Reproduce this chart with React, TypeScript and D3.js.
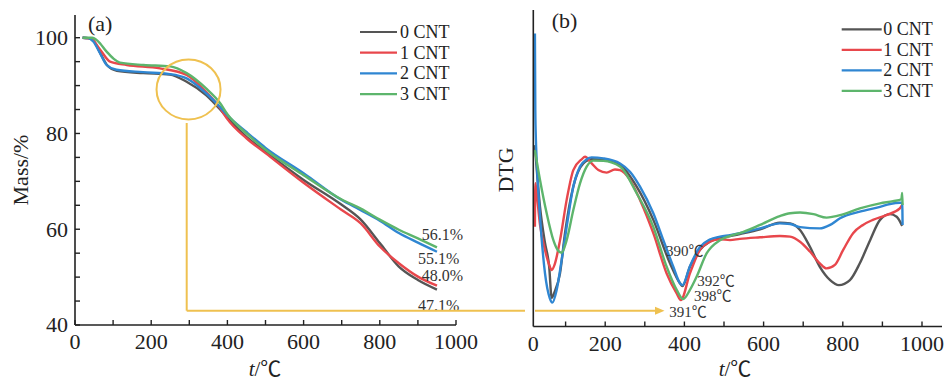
import React from "react";
import * as d3 from "d3";

// ---------- data ----------
const seriesNames = ["0 CNT", "1 CNT", "2 CNT", "3 CNT"];
const seriesColors = ["#555555", "#E8474C", "#2F86D2", "#5DB56C"];

// TG curves: [temperature °C, mass %]
const tg0: [number, number][] = [[20,100],[35,99.9],[50,99.2],[68,96.5],[85,94.2],[110,93.1],[179,92.6],[249,92.3],[293,90.8],[344,88],[381,85],[400,83.3],[450,79.3],[500,76.2],[600,70.3],[700,65.1],[750,62],[800,57.1],[850,52.2],[900,49.4],[950,47.4]];
const tg1: [number, number][] = [[20,100],[42,99.8],[66,97.5],[92,95],[136,94.3],[223,93.6],[293,92.2],[344,88.7],[381,85.3],[400,83],[450,79],[500,75.9],[600,69.7],[700,64],[750,61.2],[800,56.4],[850,52.9],[900,50.1],[950,48.2]];
const tg2: [number, number][] = [[20,100],[35,99.9],[48,99.2],[66,96.7],[83,94.3],[109,93.3],[179,92.8],[249,92.4],[293,91.5],[344,88.4],[381,85.5],[400,83.8],[450,80.3],[500,77],[600,71.7],[700,66.1],[750,64],[800,61.8],[850,59.2],[900,57.2],[950,55.3]];
const tg3: [number, number][] = [[20,100],[45,100],[60,99.3],[83,97.1],[100,95.7],[118,94.8],[180,94.3],[250,94],[293,92.6],[344,89.4],[381,86.3],[400,84],[450,80],[500,76.6],[600,71.3],[700,66.2],[750,64.3],[800,62],[850,59.9],[900,58.1],[950,56.2]];

// DTG curves: [temperature °C, DTG (a.u.)]
const dtg0: [number, number][] = [[22.5,57.4],[35.4,37.9],[48,26.5],[58.6,19],[64.8,9.2],[72,11],[85.8,16.9],[98.5,29.6],[119.5,44.3],[144.8,51.6],[165.8,52.9],[195.3,52.7],[237.4,51.1],[279.5,44.3],[321.5,33.8],[363.6,20.1],[388.9,13.8],[395,12.9],[414,19],[439,24.3],[464,26.9],[490,28],[540,29.3],[591,30.8],[641,32.9],[667,32.7],[692,30.6],[717,25.3],[742,19],[768,14.8],[790,13.2],[818,14.8],[843,20.1],[869,27.4],[894,33.8],[919,35.6],[936,34.8],[950,31.9]];
const dtg1: [number, number][] = [[22.5,31.6],[23.5,45.4],[26,43.2],[35.4,32.2],[48,24.3],[58.6,19.6],[64.8,18],[72,19.6],[86,27.4],[102.7,40.1],[119.5,49.5],[140.6,52.9],[149,53.7],[165.8,51.6],[182.7,49.5],[203.7,48.7],[224.7,49.7],[237.4,49.5],[262.6,46.4],[287.9,40.1],[321.5,29.6],[355.2,16.9],[380.5,10.6],[391,8.5],[414,16.9],[439,24.3],[464,26.9],[490,27.7],[515,27.4],[540,27.8],[591,28.3],[641,28.7],[667,28.5],[692,26.9],[717,23.8],[742,20.1],[759,18.5],[780,19.6],[801,24.3],[826,29.6],[851,32.2],[876,33.8],[910,35.3],[944,37.4],[950,38.5]];
const dtg2: [number, number][] = [[22.5,92.6],[23.5,68.5],[25,59],[26.9,52.7],[35.4,34.8],[48,16.9],[60,9.1],[66.5,7.7],[77.4,11.7],[90,21.1],[102.7,31.6],[119.5,44.3],[136.4,50.6],[153.2,52.9],[165.8,53.5],[195.3,53.2],[237.4,51.6],[262.6,49],[287.9,44.3],[321.5,35.9],[346.8,27.4],[372,19],[388.9,13.8],[395,13.2],[414,19.2],[439,25.2],[464,27.6],[490,28.5],[515,29],[540,29.6],[591,31.1],[641,32.7],[667,32.5],[692,31.5],[742,31.1],[768,32.2],[793,34.3],[843,36.4],[894,37.9],[919,38.8],[944,39.2],[950,39.2],[951,32.2]];
const dtg3: [number, number][] = [[22.5,55.8],[35.4,46.4],[52.2,35.9],[69.1,27.4],[80,24.3],[90,23.4],[102.7,27.4],[119.5,36.9],[136.4,45.3],[153.2,50.6],[170,52.5],[195.3,52.4],[237.4,50.6],[279.5,42.2],[321.5,31.6],[355.2,19],[380.5,11.7],[397,8.8],[414,11.7],[431,15.9],[456,23.2],[490,27.4],[515,28.7],[540,29.6],[591,32.2],[641,35],[667,35.9],[692,36.1],[726,35.6],[759,34.5],[776,34.8],[793,35.3],[843,37.4],[894,39],[927,39.7],[948,40.3],[950,42.3],[951,38.5]];

const tgSeries = [tg0, tg1, tg2, tg3];
const dtgSeries = [dtg0, dtg1, dtg2, dtg3];

const xTicks = d3.range(0, 1001, 100);
const xTickLabels = [0, 200, 400, 600, 800, 1000];
const yTicksTG = d3.range(40, 101, 5);
const yTickLabelsTG = [40, 60, 80, 100];

const residueLabels = ["56.1%", "55.1%", "48.0%", "47.1%"];
const peakLabels = ["390℃", "392℃", "398℃", "391℃"];

// ---------- layout ----------
const W = 949;
const H = 382;
const SERIF = "'Liberation Serif', 'Times New Roman', serif";
const SERIF_C = "'Liberation Serif', 'Noto Sans CJK SC', serif";
const AXIS = "#222";
const YELLOW = "#EFC150";

const xL = d3.scaleLinear().domain([0, 1000]).range([75, 456]);
const yL = d3.scaleLinear().domain([40, 100]).range([325, 37.7]);
const xR = d3.scaleLinear().domain([0, 1000]).range([526, 922]);
const yR = d3.scaleLinear().domain([0, 100]).range([327, 10]);

const lineL = d3.line<[number, number]>().x(d => xL(d[0])).y(d => yL(d[1])).curve(d3.curveMonotoneX);
const lineR = d3.line<[number, number]>().x(d => xR(d[0])).y(d => yR(d[1])).curve(d3.curveMonotoneX);

export default function App() {
  const axisYL = xL(0);
  const baseL = yL(40);
  const axisYR = 533.3;
  const baseR = 326.5;

  return (
    <svg width={W} height={H} viewBox={`0 0 ${W} ${H}`} style={{ display: "block", position: "absolute", left: 0, top: 0, background: "#fff" }}>
      <rect x={0} y={0} width={W} height={H} fill="#fff" />

      {/* ---------- Panel (a) ---------- */}
      <g>
        {tgSeries.map((s, i) => (
          <path key={i} d={lineL(s) || ""} fill="none" stroke={seriesColors[i]} strokeWidth={2.4} strokeLinejoin="round" />
        ))}
        <line x1={axisYL} x2={axisYL} y1={15} y2={baseL} stroke={AXIS} strokeWidth={1.6} />
        <line x1={axisYL} x2={xL(1000)} y1={baseL} y2={baseL} stroke={AXIS} strokeWidth={1.6} />
        {xTicks.map(t => (
          <line key={t} x1={xL(t)} x2={xL(t)} y1={baseL} y2={baseL - 5} stroke={AXIS} strokeWidth={1.4} />
        ))}
        {yTicksTG.map(t => (
          <line key={t} x1={axisYL} x2={axisYL + 5} y1={yL(t)} y2={yL(t)} stroke={AXIS} strokeWidth={1.4} />
        ))}
        {xTickLabels.map(t => (
          <text key={t} x={xL(t)} y={349} textAnchor="middle" fontFamily={SERIF} fontSize={22} fill={AXIS}>{t}</text>
        ))}
        {yTickLabelsTG.map(t => (
          <text key={t} x={68} y={yL(t) + 7.3} textAnchor="end" fontFamily={SERIF} fontSize={22} fill={AXIS}>{t}</text>
        ))}
        <text transform="translate(28,170) rotate(-90)" textAnchor="middle" fontFamily={SERIF} fontSize={22} fill={AXIS}>Mass/%</text>
        <text x={265} y={376} textAnchor="middle" fontFamily={SERIF_C} fontSize={21} fill={AXIS}>
          <tspan fontStyle="italic" fontFamily={SERIF}>t</tspan>
          <tspan fontFamily={SERIF}>/</tspan>
          <tspan>℃</tspan>
        </text>
        <text x={88} y={31} fontFamily={SERIF} fontSize={22} fill={AXIS}>(a)</text>

        {seriesNames.map((n, i) => (
          <g key={n}>
            <line x1={360} x2={397} y1={32 + i * 20.7} y2={32 + i * 20.7} stroke={seriesColors[i]} strokeWidth={2.2} />
            <text x={400} y={38 + i * 20.7} fontFamily={SERIF} fontSize={18} fill={AXIS}>{n}</text>
          </g>
        ))}

        <text x={421.7} y={239.5} fontFamily={SERIF} fontSize={16} fill="#333">{residueLabels[0]}</text>
        <text x={418} y={263.5} fontFamily={SERIF} fontSize={16} fill="#333">{residueLabels[1]}</text>
        <text x={421.7} y={280.5} fontFamily={SERIF} fontSize={16} fill="#333">{residueLabels[2]}</text>
        <text x={418} y={310.5} fontFamily={SERIF} fontSize={16} fill="#333">{residueLabels[3]}</text>
      </g>

      {/* ---------- yellow highlight & arrow ---------- */}
      <g stroke={YELLOW} strokeWidth={2} fill="none">
        <ellipse cx={xL(298)} cy={yL(89.2)} rx={32} ry={30} />
        <line x1={186.7} x2={186.7} y1={123} y2={310.7} />
        <line x1={186.7} x2={525} y1={310.7} y2={310.7} />
        <line x1={535} x2={657} y1={310.7} y2={310.7} />
      </g>
      <path d="M655,306.7 L664.5,310.7 L655,314.7 Z" fill={YELLOW} />

      {/* ---------- Panel (b) ---------- */}
      <g>
        {dtgSeries.map((s, i) => (
          <path key={i} d={lineR(s) || ""} fill="none" stroke={seriesColors[i]} strokeWidth={2.4} strokeLinejoin="round" />
        ))}
        <line x1={axisYR} x2={axisYR} y1={10} y2={baseR} stroke={AXIS} strokeWidth={1.6} />
        <line x1={axisYR} x2={942} y1={baseR} y2={baseR} stroke={AXIS} strokeWidth={1.6} />
        {xTicks.filter(t => t > 0).map(t => (
          <line key={t} x1={xR(t)} x2={xR(t)} y1={baseR} y2={baseR - 5} stroke={AXIS} strokeWidth={1.4} />
        ))}
        {xTickLabels.map(t => (
          <text key={t} x={t === 0 ? axisYR : xR(t)} y={350.6} textAnchor="middle" fontFamily={SERIF} fontSize={22} fill={AXIS}>{t}</text>
        ))}
        <text transform="translate(513,170) rotate(-90)" textAnchor="middle" fontFamily={SERIF} fontSize={22} fill={AXIS}>DTG</text>
        <text x={735} y={376} textAnchor="middle" fontFamily={SERIF_C} fontSize={21} fill={AXIS}>
          <tspan fontStyle="italic" fontFamily={SERIF}>t</tspan>
          <tspan fontFamily={SERIF}>/</tspan>
          <tspan>℃</tspan>
        </text>
        <text x={551.7} y={28} fontFamily={SERIF} fontSize={22} fill={AXIS}>(b)</text>

        {seriesNames.map((n, i) => (
          <g key={n}>
            <line x1={841.7} x2={881.7} y1={29.3 + i * 20.5} y2={29.3 + i * 20.5} stroke={seriesColors[i]} strokeWidth={2.2} />
            <text x={883.3} y={35.3 + i * 20.5} fontFamily={SERIF} fontSize={18} fill={AXIS}>{n}</text>
          </g>
        ))}

        <text x={666} y={256} fontFamily={SERIF_C} fontSize={15} fill="#333">{peakLabels[0]}</text>
        <text x={697.3} y={285.5} fontFamily={SERIF_C} fontSize={15} fill="#333">{peakLabels[1]}</text>
        <text x={694} y={301} fontFamily={SERIF_C} fontSize={15} fill="#333">{peakLabels[2]}</text>
        <text x={669.3} y={317} fontFamily={SERIF_C} fontSize={15} fill="#333">{peakLabels[3]}</text>
      </g>
    </svg>
  );
}
